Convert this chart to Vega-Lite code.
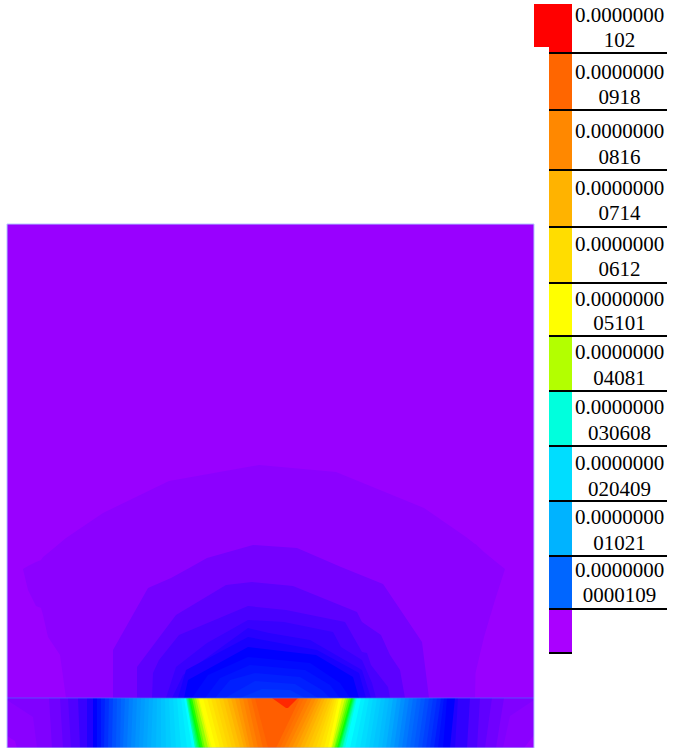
{"$schema":"https://vega.github.io/schema/vega-lite/v6.json","width":673,"height":748,"padding":0,"autosize":"none","background":"white","config":{"view":{"stroke":null}},
"datasets":{
"base":[{"x":7,"x2":534,"y":224,"y2":748,"c":"#9900ff"}],
"arch":[
{"c":"#8c00ff","x":23,"y":569,"y2":569},{"c":"#8c00ff","x":28,"y":566,"y2":590},{"c":"#8c00ff","x":36,"y":562,"y2":606},{"c":"#8c00ff","x":41,"y":560,"y2":608},{"c":"#8c00ff","x":43,"y":557,"y2":615},{"c":"#8c00ff","x":48,"y":553,"y2":637},{"c":"#8c00ff","x":60,"y":543,"y2":655},{"c":"#8c00ff","x":66,"y":538,"y2":698},{"c":"#8c00ff","x":103,"y":513,"y2":698},{"c":"#8c00ff","x":169,"y":481,"y2":698},{"c":"#8c00ff","x":259,"y":465,"y2":698},{"c":"#8c00ff","x":336,"y":472,"y2":698},{"c":"#8c00ff","x":424,"y":508,"y2":698},{"c":"#8c00ff","x":466,"y":537,"y2":698},{"c":"#8c00ff","x":475,"y":544,"y2":698},{"c":"#8c00ff","x":475.5,"y":544,"y2":673},{"c":"#8c00ff","x":484,"y":552,"y2":637},{"c":"#8c00ff","x":495,"y":561,"y2":600},{"c":"#8c00ff","x":505,"y":569,"y2":569},
{"c":"#7400ff","x":113,"y":650,"y2":698},{"c":"#7400ff","x":148,"y":588,"y2":698},{"c":"#7400ff","x":171,"y":578,"y2":698},{"c":"#7400ff","x":191,"y":567,"y2":698},{"c":"#7400ff","x":207,"y":558,"y2":698},{"c":"#7400ff","x":253,"y":545,"y2":698},{"c":"#7400ff","x":297,"y":548,"y2":698},{"c":"#7400ff","x":341,"y":567,"y2":698},{"c":"#7400ff","x":383,"y":584,"y2":698},{"c":"#7400ff","x":422,"y":642,"y2":698},{"c":"#7400ff","x":429,"y":698,"y2":698},
{"c":"#5c00ff","x":137,"y":667,"y2":698},{"c":"#5c00ff","x":176,"y":615,"y2":698},{"c":"#5c00ff","x":226,"y":585,"y2":698},{"c":"#5c00ff","x":252,"y":582,"y2":698},{"c":"#5c00ff","x":293,"y":586,"y2":698},{"c":"#5c00ff","x":357,"y":612,"y2":698},{"c":"#5c00ff","x":362,"y":622,"y2":698},{"c":"#5c00ff","x":381,"y":635,"y2":698},{"c":"#5c00ff","x":390,"y":655,"y2":698},{"c":"#5c00ff","x":400,"y":670,"y2":698},{"c":"#5c00ff","x":405,"y":698,"y2":698},
{"c":"#4800ff","x":152,"y":698,"y2":698},{"c":"#4800ff","x":153,"y":673,"y2":698},{"c":"#4800ff","x":159,"y":660,"y2":698},{"c":"#4800ff","x":179,"y":635,"y2":698},{"c":"#4800ff","x":248,"y":606,"y2":698},{"c":"#4800ff","x":286,"y":610,"y2":698},{"c":"#4800ff","x":345,"y":622,"y2":698},{"c":"#4800ff","x":362,"y":652,"y2":698},{"c":"#4800ff","x":367,"y":653,"y2":698},{"c":"#4800ff","x":371,"y":665,"y2":698},{"c":"#4800ff","x":388,"y":687,"y2":698},{"c":"#4800ff","x":390,"y":698,"y2":698},
{"c":"#3800ff","x":166,"y":698,"y2":698},{"c":"#3800ff","x":176,"y":667,"y2":698},{"c":"#3800ff","x":207,"y":643,"y2":698},{"c":"#3800ff","x":248,"y":620,"y2":698},{"c":"#3800ff","x":284,"y":622,"y2":698},{"c":"#3800ff","x":333,"y":632,"y2":698},{"c":"#3800ff","x":341,"y":647,"y2":698},{"c":"#3800ff","x":362,"y":660,"y2":698},{"c":"#3800ff","x":372,"y":683,"y2":698},{"c":"#3800ff","x":376,"y":698,"y2":698},
{"c":"#2800ff","x":172,"y":698,"y2":698},{"c":"#2800ff","x":183,"y":675,"y2":698},{"c":"#2800ff","x":248,"y":628,"y2":698},{"c":"#2800ff","x":269,"y":633,"y2":698},{"c":"#2800ff","x":310,"y":640,"y2":698},{"c":"#2800ff","x":362,"y":670,"y2":698},{"c":"#2800ff","x":371,"y":698,"y2":698},
{"c":"#1800ff","x":178,"y":698,"y2":698},{"c":"#1800ff","x":186,"y":670,"y2":698},{"c":"#1800ff","x":248,"y":637,"y2":698},{"c":"#1800ff","x":317,"y":650,"y2":698},{"c":"#1800ff","x":359,"y":673,"y2":698},{"c":"#1800ff","x":366,"y":698,"y2":698},
{"c":"#0000ff","x":184,"y":698,"y2":698},{"c":"#0000ff","x":188,"y":680,"y2":698},{"c":"#0000ff","x":248,"y":647,"y2":698},{"c":"#0000ff","x":316,"y":655,"y2":698},{"c":"#0000ff","x":353,"y":677,"y2":698},{"c":"#0000ff","x":359,"y":698,"y2":698},
{"c":"#000aff","x":192,"y":698,"y2":698},{"c":"#000aff","x":208,"y":675,"y2":698},{"c":"#000aff","x":248,"y":657,"y2":698},{"c":"#000aff","x":310,"y":663,"y2":698},{"c":"#000aff","x":340,"y":683,"y2":698},{"c":"#000aff","x":350,"y":698,"y2":698},
{"c":"#0014ff","x":205,"y":698,"y2":698},{"c":"#0014ff","x":220,"y":678,"y2":698},{"c":"#0014ff","x":250,"y":665,"y2":698},{"c":"#0014ff","x":305,"y":670,"y2":698},{"c":"#0014ff","x":330,"y":685,"y2":698},{"c":"#0014ff","x":340,"y":698,"y2":698},
{"c":"#001fff","x":215,"y":698,"y2":698},{"c":"#001fff","x":230,"y":680,"y2":698},{"c":"#001fff","x":255,"y":673,"y2":698},{"c":"#001fff","x":300,"y":677,"y2":698},{"c":"#001fff","x":322,"y":690,"y2":698},{"c":"#001fff","x":330,"y":698,"y2":698},
{"c":"#002aff","x":225,"y":698,"y2":698},{"c":"#002aff","x":255,"y":681,"y2":698},{"c":"#002aff","x":295,"y":684,"y2":698},{"c":"#002aff","x":318,"y":698,"y2":698},
{"c":"#0036ff","x":240,"y":698,"y2":698},{"c":"#0036ff","x":262,"y":689,"y2":698},{"c":"#0036ff","x":290,"y":690,"y2":698},{"c":"#0036ff","x":305,"y":698,"y2":698}
],
"bands":[
{"b":"a01","c":"#8000ff","y":698,"x":7},{"b":"a01","c":"#8000ff","y":748,"x":7},
{"b":"a02","c":"#7000ff","y":698,"x":49},{"b":"a02","c":"#7000ff","y":748,"x":52},
{"b":"a03","c":"#6000ff","y":698,"x":60},{"b":"a03","c":"#6000ff","y":748,"x":63},
{"b":"a04","c":"#5000ff","y":698,"x":68},{"b":"a04","c":"#5000ff","y":748,"x":71},
{"b":"a05","c":"#3800ff","y":698,"x":78},{"b":"a05","c":"#3800ff","y":748,"x":80},
{"b":"a06","c":"#2000ff","y":698,"x":87},{"b":"a06","c":"#2000ff","y":748,"x":87},
{"b":"b01","c":"#0000ff","y":698,"x":93},{"b":"b01","c":"#0000ff","y":748,"x":93},
{"b":"b02","c":"#0010ff","y":698,"x":97},{"b":"b02","c":"#0010ff","y":748,"x":97},
{"b":"b03","c":"#0020ff","y":698,"x":101},{"b":"b03","c":"#0020ff","y":748,"x":101},
{"b":"b04","c":"#0030ff","y":698,"x":105},{"b":"b04","c":"#0030ff","y":748,"x":104},
{"b":"b05","c":"#0040ff","y":698,"x":109},{"b":"b05","c":"#0040ff","y":748,"x":108},
{"b":"b06","c":"#0050ff","y":698,"x":113},{"b":"b06","c":"#0050ff","y":748,"x":112},
{"b":"b07","c":"#005cff","y":698,"x":117},{"b":"b07","c":"#005cff","y":748,"x":116},
{"b":"b08","c":"#0068ff","y":698,"x":121},{"b":"b08","c":"#0068ff","y":748,"x":120},
{"b":"b09","c":"#0074ff","y":698,"x":125},{"b":"b09","c":"#0074ff","y":748,"x":123},
{"b":"b10","c":"#0080ff","y":698,"x":129},{"b":"b10","c":"#0080ff","y":748,"x":127},
{"b":"b11","c":"#008aff","y":698,"x":133},{"b":"b11","c":"#008aff","y":748,"x":131},
{"b":"b12","c":"#0094ff","y":698,"x":137},{"b":"b12","c":"#0094ff","y":748,"x":135},
{"b":"b13","c":"#009cff","y":698,"x":141},{"b":"b13","c":"#009cff","y":748,"x":139},
{"b":"b14","c":"#00a4ff","y":698,"x":145},{"b":"b14","c":"#00a4ff","y":748,"x":143},
{"b":"b15","c":"#00acff","y":698,"x":149},{"b":"b15","c":"#00acff","y":748,"x":147},
{"b":"b16","c":"#00b4ff","y":698,"x":153},{"b":"b16","c":"#00b4ff","y":748,"x":151},
{"b":"b17","c":"#00bcff","y":698,"x":157},{"b":"b17","c":"#00bcff","y":748,"x":156},
{"b":"b18","c":"#00c4ff","y":698,"x":161},{"b":"b18","c":"#00c4ff","y":748,"x":161},
{"b":"b19","c":"#00ccff","y":698,"x":165},{"b":"b19","c":"#00ccff","y":748,"x":166},
{"b":"b20","c":"#00d4ff","y":698,"x":169},{"b":"b20","c":"#00d4ff","y":748,"x":171},
{"b":"b21","c":"#00dcff","y":698,"x":173},{"b":"b21","c":"#00dcff","y":748,"x":176},
{"b":"b22","c":"#00e6ff","y":698,"x":177},{"b":"b22","c":"#00e6ff","y":748,"x":181},
{"b":"b23","c":"#00f0ff","y":698,"x":181},{"b":"b23","c":"#00f0ff","y":748,"x":187},
{"b":"b24","c":"#00ffff","y":698,"x":184},{"b":"b24","c":"#00ffff","y":748,"x":192},
{"b":"c01","c":"#00ffaa","y":698,"x":186},{"b":"c01","c":"#00ffaa","y":748,"x":195},
{"b":"c02","c":"#00ff77","y":698,"x":187},{"b":"c02","c":"#00ff77","y":748,"x":196.5},
{"b":"c03","c":"#00ff44","y":698,"x":188},{"b":"c03","c":"#00ff44","y":748,"x":198},
{"b":"c04","c":"#00ff11","y":698,"x":189},{"b":"c04","c":"#00ff11","y":748,"x":199.5},
{"b":"c05","c":"#22ff00","y":698,"x":190},{"b":"c05","c":"#22ff00","y":748,"x":201},
{"b":"c06","c":"#66ff00","y":698,"x":192},{"b":"c06","c":"#66ff00","y":748,"x":203},
{"b":"c07","c":"#99ff00","y":698,"x":194},{"b":"c07","c":"#99ff00","y":748,"x":205},
{"b":"c08","c":"#ccff00","y":698,"x":196},{"b":"c08","c":"#ccff00","y":748,"x":208},
{"b":"c09","c":"#eeff00","y":698,"x":198},{"b":"c09","c":"#eeff00","y":748,"x":210},
{"b":"c10","c":"#ffff00","y":698,"x":199},{"b":"c10","c":"#ffff00","y":748,"x":212},
{"b":"d01","c":"#fff400","y":698,"x":203},{"b":"d01","c":"#fff400","y":748,"x":216},
{"b":"d02","c":"#ffe800","y":698,"x":207},{"b":"d02","c":"#ffe800","y":748,"x":220},
{"b":"d03","c":"#ffdd00","y":698,"x":211},{"b":"d03","c":"#ffdd00","y":748,"x":224},
{"b":"d04","c":"#ffd400","y":698,"x":215},{"b":"d04","c":"#ffd400","y":748,"x":228},
{"b":"d05","c":"#ffcb00","y":698,"x":219},{"b":"d05","c":"#ffcb00","y":748,"x":232},
{"b":"d06","c":"#ffc000","y":698,"x":223},{"b":"d06","c":"#ffc000","y":748,"x":236},
{"b":"d07","c":"#ffb300","y":698,"x":227},{"b":"d07","c":"#ffb300","y":748,"x":240},
{"b":"d08","c":"#ffa600","y":698,"x":231},{"b":"d08","c":"#ffa600","y":748,"x":244},
{"b":"d09","c":"#ff9900","y":698,"x":235},{"b":"d09","c":"#ff9900","y":748,"x":247},
{"b":"d10","c":"#ff8c00","y":698,"x":239},{"b":"d10","c":"#ff8c00","y":748,"x":250},
{"b":"d11","c":"#ff8000","y":698,"x":243},{"b":"d11","c":"#ff8000","y":748,"x":254},
{"b":"d12","c":"#ff7400","y":698,"x":247},{"b":"d12","c":"#ff7400","y":748,"x":258},
{"b":"d13","c":"#ff6800","y":698,"x":251},{"b":"d13","c":"#ff6800","y":748,"x":263},
{"b":"d14","c":"#ff5e00","y":698,"x":255},{"b":"d14","c":"#ff5e00","y":748,"x":268},
{"b":"e01","c":"#ff6c00","y":698,"x":300},{"b":"e01","c":"#ff6c00","y":748,"x":276},
{"b":"e02","c":"#ff7400","y":698,"x":304},{"b":"e02","c":"#ff7400","y":748,"x":280},
{"b":"e03","c":"#ff8000","y":698,"x":308},{"b":"e03","c":"#ff8000","y":748,"x":284},
{"b":"e04","c":"#ff8c00","y":698,"x":312},{"b":"e04","c":"#ff8c00","y":748,"x":288},
{"b":"e05","c":"#ff9800","y":698,"x":316},{"b":"e05","c":"#ff9800","y":748,"x":292},
{"b":"e06","c":"#ffa400","y":698,"x":319},{"b":"e06","c":"#ffa400","y":748,"x":296},
{"b":"e07","c":"#ffb000","y":698,"x":322},{"b":"e07","c":"#ffb000","y":748,"x":300},
{"b":"e08","c":"#ffbc00","y":698,"x":325},{"b":"e08","c":"#ffbc00","y":748,"x":304},
{"b":"e09","c":"#ffc600","y":698,"x":328},{"b":"e09","c":"#ffc600","y":748,"x":308},
{"b":"e10","c":"#ffd000","y":698,"x":331},{"b":"e10","c":"#ffd000","y":748,"x":312},
{"b":"e11","c":"#ffda00","y":698,"x":333},{"b":"e11","c":"#ffda00","y":748,"x":316},
{"b":"e12","c":"#ffe400","y":698,"x":335},{"b":"e12","c":"#ffe400","y":748,"x":320},
{"b":"e13","c":"#fff000","y":698,"x":337},{"b":"e13","c":"#fff000","y":748,"x":324},
{"b":"e14","c":"#ffff00","y":698,"x":339},{"b":"e14","c":"#ffff00","y":748,"x":328},
{"b":"f01","c":"#ddff00","y":698,"x":342},{"b":"f01","c":"#ddff00","y":748,"x":331},
{"b":"f02","c":"#aaff00","y":698,"x":345},{"b":"f02","c":"#aaff00","y":748,"x":332},
{"b":"f03","c":"#77ff00","y":698,"x":347},{"b":"f03","c":"#77ff00","y":748,"x":334},
{"b":"f04","c":"#44ff00","y":698,"x":349},{"b":"f04","c":"#44ff00","y":748,"x":335},
{"b":"f05","c":"#11ff00","y":698,"x":351},{"b":"f05","c":"#11ff00","y":748,"x":337},
{"b":"f06","c":"#00ff22","y":698,"x":352},{"b":"f06","c":"#00ff22","y":748,"x":338},
{"b":"f07","c":"#00ff55","y":698,"x":353},{"b":"f07","c":"#00ff55","y":748,"x":339},
{"b":"f08","c":"#00ff88","y":698,"x":354},{"b":"f08","c":"#00ff88","y":748,"x":340},
{"b":"f09","c":"#00ffbb","y":698,"x":355},{"b":"f09","c":"#00ffbb","y":748,"x":342},
{"b":"f10","c":"#00ffdd","y":698,"x":356},{"b":"f10","c":"#00ffdd","y":748,"x":343},
{"b":"f11","c":"#00ffff","y":698,"x":357},{"b":"f11","c":"#00ffff","y":748,"x":345},
{"b":"g01","c":"#00f0ff","y":698,"x":361},{"b":"g01","c":"#00f0ff","y":748,"x":350},
{"b":"g02","c":"#00e6ff","y":698,"x":365},{"b":"g02","c":"#00e6ff","y":748,"x":355},
{"b":"g03","c":"#00dcff","y":698,"x":369},{"b":"g03","c":"#00dcff","y":748,"x":360},
{"b":"g04","c":"#00d4ff","y":698,"x":373},{"b":"g04","c":"#00d4ff","y":748,"x":365},
{"b":"g05","c":"#00ccff","y":698,"x":377},{"b":"g05","c":"#00ccff","y":748,"x":369},
{"b":"g06","c":"#00c4ff","y":698,"x":381},{"b":"g06","c":"#00c4ff","y":748,"x":373},
{"b":"g07","c":"#00bcff","y":698,"x":385},{"b":"g07","c":"#00bcff","y":748,"x":378},
{"b":"g08","c":"#00b4ff","y":698,"x":389},{"b":"g08","c":"#00b4ff","y":748,"x":382},
{"b":"g09","c":"#00a8ff","y":698,"x":393},{"b":"g09","c":"#00a8ff","y":748,"x":386},
{"b":"g10","c":"#009cff","y":698,"x":397},{"b":"g10","c":"#009cff","y":748,"x":390},
{"b":"g11","c":"#0090ff","y":698,"x":401},{"b":"g11","c":"#0090ff","y":748,"x":394},
{"b":"g12","c":"#0084ff","y":698,"x":405},{"b":"g12","c":"#0084ff","y":748,"x":398},
{"b":"g13","c":"#0078ff","y":698,"x":409},{"b":"g13","c":"#0078ff","y":748,"x":402},
{"b":"g14","c":"#006cff","y":698,"x":413},{"b":"g14","c":"#006cff","y":748,"x":406},
{"b":"g15","c":"#0062ff","y":698,"x":417},{"b":"g15","c":"#0062ff","y":748,"x":410},
{"b":"g16","c":"#0058ff","y":698,"x":421},{"b":"g16","c":"#0058ff","y":748,"x":414},
{"b":"g17","c":"#004cff","y":698,"x":425},{"b":"g17","c":"#004cff","y":748,"x":418},
{"b":"g18","c":"#0040ff","y":698,"x":429},{"b":"g18","c":"#0040ff","y":748,"x":422},
{"b":"g19","c":"#0034ff","y":698,"x":433},{"b":"g19","c":"#0034ff","y":748,"x":426},
{"b":"g20","c":"#0028ff","y":698,"x":437},{"b":"g20","c":"#0028ff","y":748,"x":430},
{"b":"g21","c":"#0018ff","y":698,"x":441},{"b":"g21","c":"#0018ff","y":748,"x":434},
{"b":"g22","c":"#000cff","y":698,"x":444},{"b":"g22","c":"#000cff","y":748,"x":438},
{"b":"g23","c":"#0000ff","y":698,"x":447},{"b":"g23","c":"#0000ff","y":748,"x":443},
{"b":"h01","c":"#2000ff","y":698,"x":455},{"b":"h01","c":"#2000ff","y":748,"x":450},
{"b":"h02","c":"#3000ff","y":698,"x":458},{"b":"h02","c":"#3000ff","y":748,"x":455},
{"b":"h03","c":"#4c00ff","y":698,"x":470},{"b":"h03","c":"#4c00ff","y":748,"x":467},
{"b":"h04","c":"#6000ff","y":698,"x":480},{"b":"h04","c":"#6000ff","y":748,"x":477},
{"b":"h05","c":"#7000ff","y":698,"x":492},{"b":"h05","c":"#7000ff","y":748,"x":485},
{"b":"h06","c":"#8000ff","y":698,"x":504},{"b":"h06","c":"#8000ff","y":748,"x":496}
],
"patch":[
{"b":"p1","c":"#8a00ff","y":700,"x":7,"x2":7},{"b":"p1","c":"#8a00ff","y":717,"x":7,"x2":33},{"b":"p1","c":"#8a00ff","y":748,"x":7,"x2":37},
{"b":"p2","c":"#8a00ff","y":700,"x":534,"x2":534},{"b":"p2","c":"#8a00ff","y":716,"x":510,"x2":534},{"b":"p2","c":"#8a00ff","y":748,"x":503,"x2":534},
{"b":"p3","c":"#9900ff","y":736,"x":7,"x2":7},{"b":"p3","c":"#9900ff","y":741,"x":7,"x2":15},{"b":"p3","c":"#9900ff","y":748,"x":7,"x2":17},
{"b":"p4","c":"#9900ff","y":735,"x":534,"x2":534},{"b":"p4","c":"#9900ff","y":748,"x":524,"x2":534},
{"b":"p5","c":"#ff2800","y":698,"x":272,"x2":298},{"b":"p5","c":"#ff2800","y":708,"x":286,"x2":288}
],
"swatch":[
{"c":"#ff0000","x":534,"x2":572,"y":4,"y2":47},{"c":"#ff0000","x":549,"x2":572,"y":47,"y2":53},
{"c":"#ff6600","x":549,"x2":572,"y":53,"y2":110},{"c":"#ff8800","x":549,"x2":572,"y":110,"y2":170},{"c":"#ffb300","x":549,"x2":572,"y":170,"y2":227},{"c":"#ffdd00","x":549,"x2":572,"y":227,"y2":283},{"c":"#ffff00","x":549,"x2":572,"y":283,"y2":336},{"c":"#b3ff00","x":549,"x2":572,"y":336,"y2":391},{"c":"#00ffdd","x":549,"x2":572,"y":391,"y2":446},{"c":"#00ddff","x":549,"x2":572,"y":446,"y2":501},{"c":"#00b3ff","x":549,"x2":572,"y":501,"y2":556},{"c":"#0066ff","x":549,"x2":572,"y":556,"y2":609},{"c":"#aa00ff","x":549,"x2":572,"y":609,"y2":653}
],
"lines":[{"x":549,"x2":667,"y":53},{"x":549,"x2":667,"y":110},{"x":549,"x2":667,"y":170},{"x":549,"x2":667,"y":227},{"x":549,"x2":667,"y":283},{"x":549,"x2":667,"y":336},{"x":549,"x2":667,"y":391},{"x":549,"x2":667,"y":446},{"x":549,"x2":667,"y":501},{"x":549,"x2":667,"y":556},{"x":549,"x2":667,"y":609},{"x":549,"x2":572,"y":653}],
"labels":[
{"t":"0.0000000","x":619.5,"y":16},{"t":"102","x":619.5,"y":41},{"t":"0.0000000","x":619.5,"y":73},{"t":"0918","x":619.5,"y":98},{"t":"0.0000000","x":619.5,"y":132},{"t":"0816","x":619.5,"y":158},{"t":"0.0000000","x":619.5,"y":189},{"t":"0714","x":619.5,"y":214},{"t":"0.0000000","x":619.5,"y":245},{"t":"0612","x":619.5,"y":270},{"t":"0.0000000","x":619.5,"y":300},{"t":"05101","x":619.5,"y":324},{"t":"0.0000000","x":619.5,"y":353},{"t":"04081","x":619.5,"y":379},{"t":"0.0000000","x":619.5,"y":408},{"t":"030608","x":619.5,"y":434},{"t":"0.0000000","x":619.5,"y":464},{"t":"020409","x":619.5,"y":490},{"t":"0.0000000","x":619.5,"y":518},{"t":"01021","x":619.5,"y":544},{"t":"0.0000000","x":619.5,"y":571},{"t":"0000109","x":619.5,"y":596}
],
"seam":[{"x":7,"x2":534,"y":698}]
},
"encoding":{
"x":{"field":"x","type":"quantitative","axis":null,"scale":{"domain":[0,673],"nice":false,"zero":false}},
"y":{"field":"y","type":"quantitative","axis":null,"scale":{"domain":[748,0],"nice":false,"zero":false}}
},
"layer":[
{"data":{"name":"base"},"mark":{"type":"rect"},"encoding":{"x2":{"field":"x2"},"y2":{"field":"y2"},"color":{"field":"c","type":"nominal","scale":null,"legend":null}}},
{"data":{"name":"arch"},"mark":{"type":"area","orient":"vertical","interpolate":"linear"},"encoding":{"y2":{"field":"y2"},"color":{"field":"c","type":"nominal","scale":null,"legend":null}}},
{"data":{"name":"bands"},"mark":{"type":"area","orient":"horizontal"},"encoding":{"x2":{"datum":534},"detail":{"field":"b"},"color":{"field":"c","type":"nominal","scale":null,"legend":null}}},
{"data":{"name":"patch"},"mark":{"type":"area","orient":"horizontal"},"encoding":{"x2":{"field":"x2"},"detail":{"field":"b"},"color":{"field":"c","type":"nominal","scale":null,"legend":null}}},
{"data":{"name":"seam"},"mark":{"type":"rule","color":"#4466ff","opacity":0.7,"strokeWidth":1},"encoding":{"x2":{"field":"x2"}}},
{"data":{"name":"base"},"mark":{"type":"rect","fill":null,"stroke":"#b4c8ff","strokeWidth":1},"encoding":{"x2":{"field":"x2"},"y2":{"field":"y2"}}},
{"data":{"name":"swatch"},"mark":{"type":"rect"},"encoding":{"x2":{"field":"x2"},"y2":{"field":"y2"},"color":{"field":"c","type":"nominal","scale":null,"legend":null}}},
{"data":{"name":"lines"},"mark":{"type":"rule","color":"#000000","strokeWidth":2},"encoding":{"x2":{"field":"x2"}}},
{"data":{"name":"labels"},"mark":{"type":"text","font":"Liberation Serif","fontSize":21,"color":"#000000","align":"center","baseline":"middle"},"encoding":{"text":{"field":"t"}}}
]}
